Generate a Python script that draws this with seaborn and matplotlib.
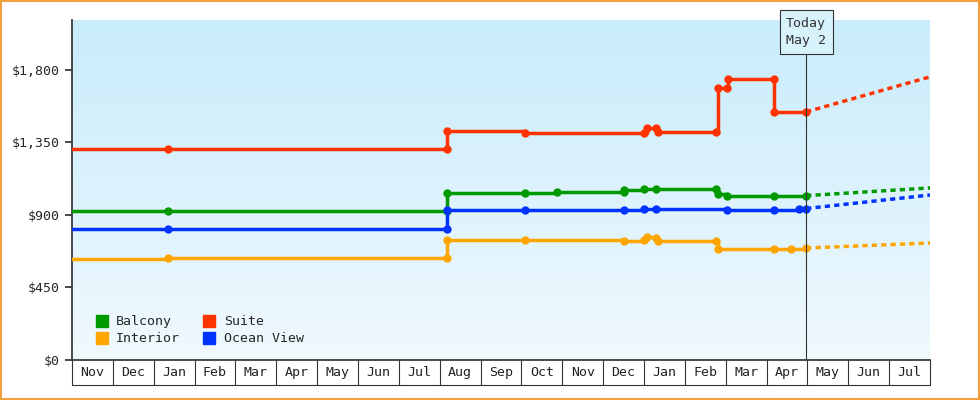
import matplotlib
matplotlib.use("Agg")
import matplotlib.pyplot as plt
import matplotlib.transforms as mtrans
import numpy as np
import pandas as pd
import seaborn as sns

months = ["Nov","Dec","Jan","Feb","Mar","Apr","May","Jun","Jul","Aug","Sep","Oct",
          "Nov","Dec","Jan","Feb","Mar","Apr","May","Jun","Jul"]
today_x = 17.97
end_x = 21.0

suite_x = [-0.1, 2.35, 9.17, 9.17, 11.08, 14.0, 14.07, 14.3, 14.35, 15.77, 15.8, 16.02, 16.05, 17.19, 17.19, 17.97]
suite_y = [1310, 1310, 1310, 1420, 1410, 1410, 1440, 1440, 1415, 1415, 1685, 1685, 1745, 1745, 1540, 1540]
balcony_x = [-0.1, 2.35, 9.17, 9.17, 11.08, 11.88, 13.52, 13.52, 14.0, 14.3, 15.77, 15.8, 16.02, 17.19, 17.97]
balcony_y = [925, 925, 925, 1035, 1035, 1040, 1040, 1055, 1060, 1060, 1060, 1030, 1018, 1015, 1020]
ocean_x = [-0.1, 2.35, 9.17, 9.17, 11.08, 13.52, 14.0, 14.3, 16.02, 17.19, 17.8, 17.97]
ocean_y = [813, 815, 815, 930, 928, 928, 935, 935, 928, 928, 935, 940]
interior_x = [-0.1, 2.35, 9.17, 9.17, 11.08, 13.52, 14.0, 14.07, 14.3, 14.35, 15.77, 15.8, 17.19, 17.6, 17.97]
interior_y = [627, 630, 630, 745, 745, 740, 745, 765, 760, 740, 740, 690, 690, 690, 695]
proj_end = {"Suite": 1757, "Balcony": 1068, "Ocean View": 1024, "Interior": 726}

colors = {"Balcony": "#009900", "Interior": "#ffa500", "Suite": "#ff3300", "Ocean View": "#0033ff"}
series = {"Balcony": (balcony_x, balcony_y), "Interior": (interior_x, interior_y),
          "Suite": (suite_x, suite_y), "Ocean View": (ocean_x, ocean_y)}

rows, prow = [], []
for name, (xs, ys) in series.items():
    for x, y in zip(xs, ys):
        rows.append((name, x, y))
    prow.append((name, xs[-1], ys[-1]))
    prow.append((name, end_x, proj_end[name]))
df = pd.DataFrame(rows, columns=["cabin", "x", "price"])
pdf = pd.DataFrame(prow, columns=["cabin", "x", "price"])

sns.set_theme(style="white")
plt.rcParams["font.family"] = ["DejaVu Sans Mono"]
fig = plt.figure(figsize=(9.8, 4), dpi=100)
fig.patch.set_facecolor("white")
fig.patches.append(plt.Rectangle((0.001, 0.002), 0.998, 0.996, transform=fig.transFigure,
                                 fill=False, edgecolor="#f0a040", linewidth=1.5))
ax = fig.add_axes([72/980, 0.1, 858/980, 0.85])
ax.set_xlim(0, end_x)
ax.set_ylim(0, 2110)
grad = np.linspace(0, 1, 256).reshape(-1, 1)
from matplotlib.colors import LinearSegmentedColormap
cm = LinearSegmentedColormap.from_list("g", ["#f0f9fe", "#c8ecfb"])
ax.imshow(grad, extent=[0, end_x, 0, 2110], aspect="auto", origin="lower", cmap=cm, zorder=0)

sns.lineplot(data=df, x="x", y="price", hue="cabin", palette=colors, estimator=None, sort=False,
             drawstyle="steps-post", marker="o", markersize=6, markeredgewidth=0, linewidth=2.5,
             legend=False, ax=ax, zorder=3)
sns.lineplot(data=pdf, x="x", y="price", hue="cabin", palette=colors, estimator=None, sort=False,
             linestyle=(0, (1.5, 1.2)), linewidth=2.5, legend=False, ax=ax, zorder=3)

ax.axvline(today_x, color="#333333", linewidth=0.8, zorder=4)
ax.text(today_x, 2035, "Today\nMay 2", ha="center", va="center", fontsize=9.5, color="#333333",
        linespacing=1.4, bbox=dict(boxstyle="square,pad=0.5", fc="#d8f2fc", ec="#333333", lw=0.8), zorder=5)

ax.set_yticks([0, 450, 900, 1350, 1800])
ax.set_yticklabels(["$0", "$450", "$900", "$1,350", "$1,800"], fontsize=9.5)
ax.tick_params(axis="y", length=5, color="#333333", left=True)
ax.set_xticks([])
ax.set_xlabel(""); ax.set_ylabel("")
for s in ["top", "right"]:
    ax.spines[s].set_visible(False)
for s in ["left", "bottom"]:
    ax.spines[s].set_color("#333333")

tr = mtrans.blended_transform_factory(ax.transData, ax.transAxes)
dy = 25/340
ax.plot([0, end_x], [-dy, -dy], transform=tr, color="#333333", lw=0.8, clip_on=False)
for i in range(len(months) + 1):
    ax.plot([i, i], [0, -dy], transform=tr, color="#333333", lw=0.8, clip_on=False)
for i, m in enumerate(months):
    ax.text(i + 0.5, -dy/2, m, transform=tr, ha="center", va="center", fontsize=9.5, color="#222222")

from matplotlib.lines import Line2D
handles = [Line2D([], [], color=colors[n], marker="s", linestyle="", markersize=8) for n in series]
ax.legend(handles, list(series), ncol=2, loc="lower left", bbox_to_anchor=(0.01, 0.02), frameon=False,
          handletextpad=0.1, columnspacing=1.2, labelspacing=0.3, fontsize=9.5, borderaxespad=0.2)
fig.savefig("out.png", dpi=100)
